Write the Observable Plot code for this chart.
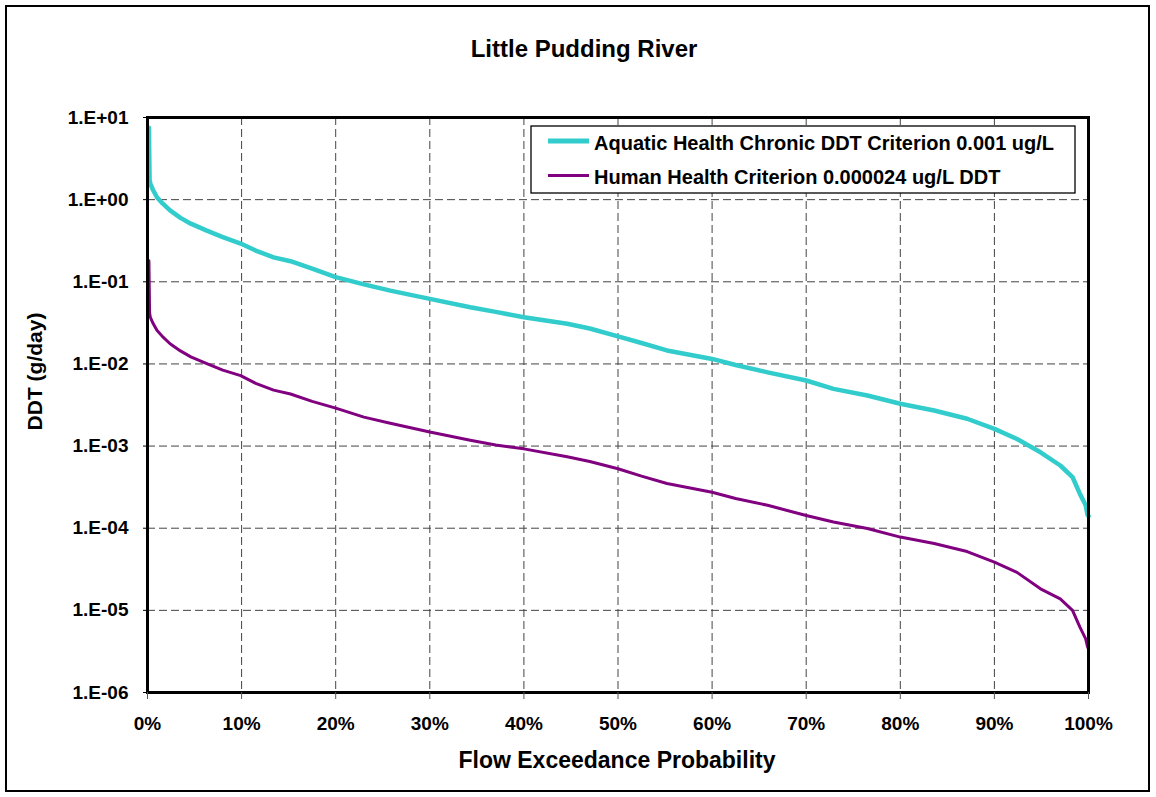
<!DOCTYPE html>
<html>
<head>
<meta charset="utf-8">
<script src="https://cdn.jsdelivr.net/npm/d3@7"></script>
<script src="https://cdn.jsdelivr.net/npm/@observablehq/plot@0.6"></script>
<style>
  body { margin: 0; background: #fff; }
  #wrap { position: relative; width: 1156px; height: 797px; overflow: hidden; }
  #border { position: absolute; left: 5px; top: 5px; width: 1141px; height: 783px; border: 2px solid #000; pointer-events: none; }
</style>
</head>
<body>
<div id="wrap"><div id="chart"></div><div id="border"></div></div>
<script>
const chartTitle = "Little Pudding River";
const xLabel = "Flow Exceedance Probability";
const yLabel = "DDT (g/day)";
const seriesNames = ["Aquatic Health Chronic DDT Criterion 0.001 ug/L", "Human Health Criterion 0.000024 ug/L DDT"];
const seriesColors = ["#33CCCC", "#800080"];

const exceedancePct = [0.15, 0.22, 0.3, 0.6, 1.0, 1.6, 2.4, 3.5, 4.6, 6.3, 8, 9.9, 11.5, 13.4, 15.2, 17.5, 20, 23, 25.8, 30, 34.3, 37, 40, 44.6, 47, 50, 52.5, 55.2, 60, 62.5, 65.9, 70, 72.9, 76.5, 80, 83.6, 87.1, 90, 92.4, 94.9, 97, 98.3, 99.1, 99.7, 99.9, 100];

const aquaticLoad = [7.5, 1.75, 1.57, 1.3, 1.07, 0.9, 0.74, 0.6, 0.51, 0.42, 0.35, 0.292, 0.24, 0.198, 0.178, 0.145, 0.114, 0.093, 0.078, 0.062, 0.049, 0.043, 0.037, 0.0308, 0.027, 0.0216, 0.018, 0.0146, 0.0115, 0.0097, 0.0079, 0.00628, 0.00497, 0.00413, 0.00327, 0.00271, 0.00215, 0.00162, 0.00122, 0.00084, 0.00058, 0.00042, 0.00026, 0.00019, 0.000145, 0.00014];

const humanLoad = [0.18, 0.042, 0.037, 0.031, 0.0257, 0.0215, 0.0176, 0.0144, 0.0122, 0.0101, 0.0084, 0.0072, 0.0058, 0.0048, 0.0043, 0.0035, 0.0029, 0.00225, 0.0019, 0.00148, 0.00118, 0.00103, 0.000925, 0.00074, 0.00065, 0.00053, 0.00043, 0.00035, 0.000274, 0.00023, 0.00019, 0.000143, 0.000119, 0.000099, 0.000078, 0.000065, 0.000052, 0.0000386, 0.000029, 0.0000183, 0.0000138, 0.00001, 0.0000062, 0.0000045, 0.0000036, 0.0000034];

const xTicks = [0, 10, 20, 30, 40, 50, 60, 70, 80, 90, 100];
const yTicks = [1e-6, 1e-5, 1e-4, 1e-3, 1e-2, 1e-1, 1e0, 1e1];
const yTickLabels = ["1.E-06", "1.E-05", "1.E-04", "1.E-03", "1.E-02", "1.E-01", "1.E+00", "1.E+01"];

const aquaticRows = exceedancePct.map((p, i) => ({pct: p, value: aquaticLoad[i]}));
const humanRows = exceedancePct.map((p, i) => ({pct: p, value: humanLoad[i]}));

const FONT = "'Liberation Sans', Arial, Helvetica, sans-serif";
const gridStyle = {stroke: "#444", strokeOpacity: 1, strokeWidth: 1, strokeDasharray: "8,4"};

const chart = Plot.plot({
  width: 1156,
  height: 797,
  marginLeft: 147,
  marginRight: 68,
  marginTop: 117,
  marginBottom: 105,
  style: {fontFamily: FONT, background: "transparent", color: "#000"},
  x: {domain: [0, 100], label: null},
  y: {type: "log", domain: [1e-6, 10], label: null},
  marks: [
    Plot.gridX(xTicks, gridStyle),
    Plot.gridY(yTicks, gridStyle),
    Plot.line(humanRows, {x: "pct", y: "value", stroke: seriesColors[1], strokeWidth: 3, curve: "linear"}),
    Plot.line(aquaticRows, {x: "pct", y: "value", stroke: seriesColors[0], strokeWidth: 4.5, curve: "linear"}),
    Plot.frame({stroke: "#000", strokeWidth: 3}),
    Plot.axisX(xTicks, {tickFormat: d => d + "%", tickSize: 7, tickPadding: 17, fontSize: 19, fontWeight: "bold", stroke: "#555", fill: "#000", label: null}),
    Plot.axisY(yTicks, {tickFormat: d => yTickLabels[yTicks.indexOf(d)], tickSize: 4, tickPadding: 15, fontSize: 19, fontWeight: "bold", stroke: "#000", fill: "#000", label: null})
  ]
});

document.getElementById("chart").appendChild(chart);

const svg = d3.select(chart);
const txt = svg.append("g").attr("font-family", FONT).attr("font-weight", "bold").attr("fill", "#000");
txt.append("text").attr("x", 584).attr("y", 57).attr("text-anchor", "middle").attr("font-size", 24).text(chartTitle);
txt.append("text").attr("x", 617).attr("y", 768).attr("text-anchor", "middle").attr("font-size", 23).text(xLabel);
txt.append("text").attr("transform", "translate(41.5,371.5) rotate(-90)").attr("text-anchor", "middle").attr("font-size", 21).text(yLabel);

// legend
const lg = svg.append("g").attr("font-family", FONT).attr("font-weight", "bold");
lg.append("rect").attr("x", 531).attr("y", 126).attr("width", 544).attr("height", 67).attr("fill", "#fff").attr("stroke", "#000").attr("stroke-width", 1.3);
const legendRows = [{y: 141, base: 149.5, w: 5}, {y: 175.5, base: 184, w: 3}];
seriesNames.forEach((name, i) => {
  lg.append("line").attr("x1", 548).attr("x2", 589).attr("y1", legendRows[i].y).attr("y2", legendRows[i].y)
    .attr("stroke", seriesColors[i]).attr("stroke-width", legendRows[i].w);
  lg.append("text").attr("x", 594).attr("y", legendRows[i].base).attr("text-anchor", "start")
    .attr("font-size", 20).attr("fill", "#000").text(name);
});
</script>
</body>
</html>
